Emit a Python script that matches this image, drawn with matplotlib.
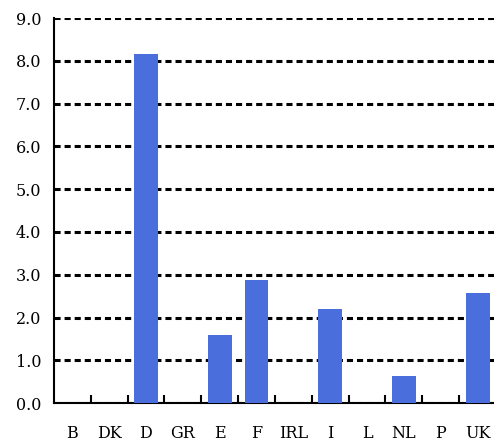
import matplotlib
matplotlib.use("Agg")
import matplotlib.pyplot as plt
import numpy as np

countries = ["B", "DK", "D", "GR", "E", "F", "IRL", "I", "L", "NL", "P", "UK"]
values = [0.0, 0.0, 8.15, 0.0, 1.6, 2.88, 0.0, 2.2, 0.0, 0.63, 0.0, 2.58]
y_ticks = np.arange(0, 10, 1.0)

fig = plt.figure(figsize=(4.94, 4.41), dpi=100)
ax = fig.add_axes([0.109, 0.086, 0.895, 0.873])

x = np.arange(len(countries))
ax.bar(x, values, width=0.65, color="#4a6fdc", zorder=3)

ax.set_xlim(-0.5, len(countries) - 0.5)
ax.set_ylim(0, 9)
ax.set_yticks(y_ticks)
ax.set_yticklabels(["%.1f" % v for v in y_ticks], fontsize=11.5, family="DejaVu Serif")
ax.set_xticks(x)
ax.set_xticklabels(countries, fontsize=11.5, family="DejaVu Serif")
ax.tick_params(axis="x", length=0, pad=16)
ax.tick_params(axis="y", length=0, pad=9)
ax.set_xticks(np.arange(0.5, len(countries) - 0.5, 1.0), minor=True)
ax.tick_params(axis="x", which="minor", direction="in", length=6, width=1.5)

ax.yaxis.grid(True, color="black", linestyle=(0, (2, 1.3)), linewidth=2.2, zorder=1)
ax.set_axisbelow(True)
for s in ["top", "right"]:
    ax.spines[s].set_visible(False)
ax.spines["left"].set_linewidth(1.5)
ax.spines["bottom"].set_linewidth(1.5)

plt.savefig("out.png", dpi=100)
